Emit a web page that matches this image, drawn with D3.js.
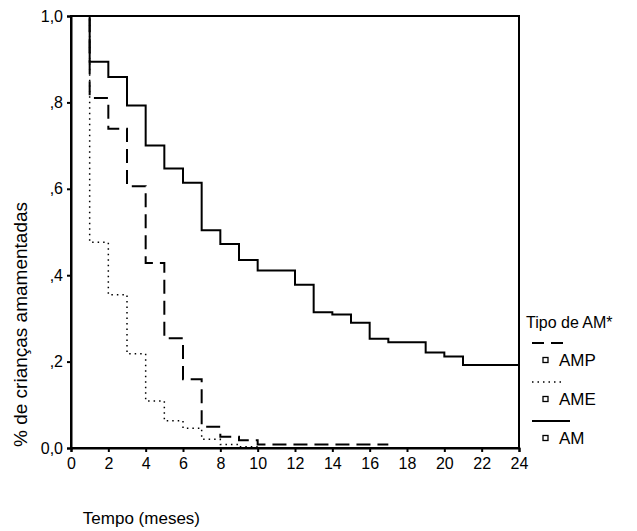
<!DOCTYPE html>
<html>
<head>
<meta charset="utf-8">
<script src="https://cdn.jsdelivr.net/npm/d3@7"></script>
<style>
  html, body { margin: 0; padding: 0; background: #fff; }
  svg text { font-family: Arial, "Liberation Sans", sans-serif; fill: #000; }
</style>
</head>
<body>
<svg id="chart" width="637" height="531"></svg>
<script>
// ---- data ----
const xTicks = [0,2,4,6,8,10,12,14,16,18,20,22,24];
const yTicks = [0,0.2,0.4,0.6,0.8,1.0];
const yTickLabels = ["0,0", ",2", ",4", ",6", ",8", "1,0"];

const amTimes  = [0,1,2,3,4,5,6,7,8,9,10,12,13,14,15,16,17,19,20,21,24];
const amValues = [1,0.894,0.859,0.793,0.700,0.647,0.614,0.504,0.472,0.435,0.411,0.378,0.314,0.309,0.290,0.253,0.245,0.221,0.212,0.192,0.192];

const ampTimes  = [0,1,2,3,4,5,6,7,8,9,10,17];
const ampValues = [1,0.810,0.739,0.606,0.428,0.254,0.159,0.049,0.026,0.018,0.008,0.008];

const ameTimes  = [0,1,2,3,4,5,6,7,8,9,10];
const ameValues = [1,0.476,0.355,0.218,0.109,0.063,0.046,0.020,0.008,0.003,0.003];

const legendNames = ["AMP", "AME", "AM"];

// ---- layout ----
const svg = d3.select("#chart");
const x = d3.scaleLinear().domain([0,24]).range([71,519]);
const y = d3.scaleLinear().domain([0,1]).range([448,16]);

const styles = {
  AMP: { width: 2,   dash: "14,7" },
  AME: { width: 1.5, dash: "1.5,4" },
  AM:  { width: 2,   dash: null }
};

// frame
svg.append("rect")
  .attr("x", x(0)).attr("y", y(1))
  .attr("width", x(24) - x(0)).attr("height", y(0) - y(1))
  .attr("fill", "none").attr("stroke", "#000").attr("stroke-width", 2);

// axes
const xAxis = d3.axisBottom(x).tickValues(xTicks).tickSize(4).tickPadding(6).tickFormat(d3.format("d"));
const gx = svg.append("g").attr("transform", `translate(0,${y(0)})`).call(xAxis);
gx.select(".domain").attr("stroke-width", 2);
gx.selectAll(".tick line").attr("stroke-width", 2);
gx.selectAll("text").style("font-size", "16px").attr("fill", "#000");

const yAxis = d3.axisLeft(y).tickValues(yTicks).tickSize(4).tickPadding(4)
  .tickFormat((d, i) => yTickLabels[i]);
const gy = svg.append("g").attr("transform", `translate(${x(0)},0)`).call(yAxis);
gy.select(".domain").attr("stroke-width", 2);
gy.selectAll(".tick line").attr("stroke-width", 2);
gy.selectAll("text").style("font-size", "16px").attr("fill", "#000");

// series
const series = [
  { name: "AMP", t: ampTimes, v: ampValues },
  { name: "AME", t: ameTimes, v: ameValues },
  { name: "AM",  t: amTimes,  v: amValues }
];
const line = d3.line().x(d => x(d[0])).y(d => y(d[1])).curve(d3.curveStepAfter);
series.forEach(s => {
  const pts = s.t.map((t, i) => [t, s.v[i]]);
  svg.append("path")
    .attr("d", line(pts))
    .attr("fill", "none")
    .attr("stroke", "#000")
    .attr("stroke-width", styles[s.name].width)
    .attr("stroke-dasharray", styles[s.name].dash);
});

// axis titles
svg.append("text")
  .attr("transform", "translate(27,447) rotate(-90)")
  .attr("text-anchor", "start")
  .style("font-size", "19px")
  .text("% de crianças amamentadas");

svg.append("text")
  .attr("x", 200).attr("y", 524)
  .attr("text-anchor", "end")
  .style("font-size", "17px")
  .text("Tempo (meses)");

// legend
svg.append("text")
  .attr("x", 526).attr("y", 328)
  .style("font-size", "16px")
  .text("Tipo de AM*");

const legendSampleY = [343, 382, 421];
const legendLabelY  = [360, 399, 438];
legendNames.forEach((n, i) => {
  svg.append("line")
    .attr("x1", 532).attr("x2", n === "AM" ? 570 : 563)
    .attr("y1", legendSampleY[i]).attr("y2", legendSampleY[i])
    .attr("stroke", "#000")
    .attr("stroke-width", styles[n].width)
    .attr("stroke-dasharray", n === "AMP" ? "12,7" : styles[n].dash);
  svg.append("rect")
    .attr("x", 543).attr("y", legendLabelY[i] - 2.5)
    .attr("width", 5).attr("height", 5)
    .attr("fill", "#fff").attr("stroke", "#000").attr("stroke-width", 1.3);
  svg.append("text")
    .attr("x", 559).attr("y", legendLabelY[i] + 6)
    .style("font-size", "17px")
    .text(n);
});
</script>
</body>
</html>
